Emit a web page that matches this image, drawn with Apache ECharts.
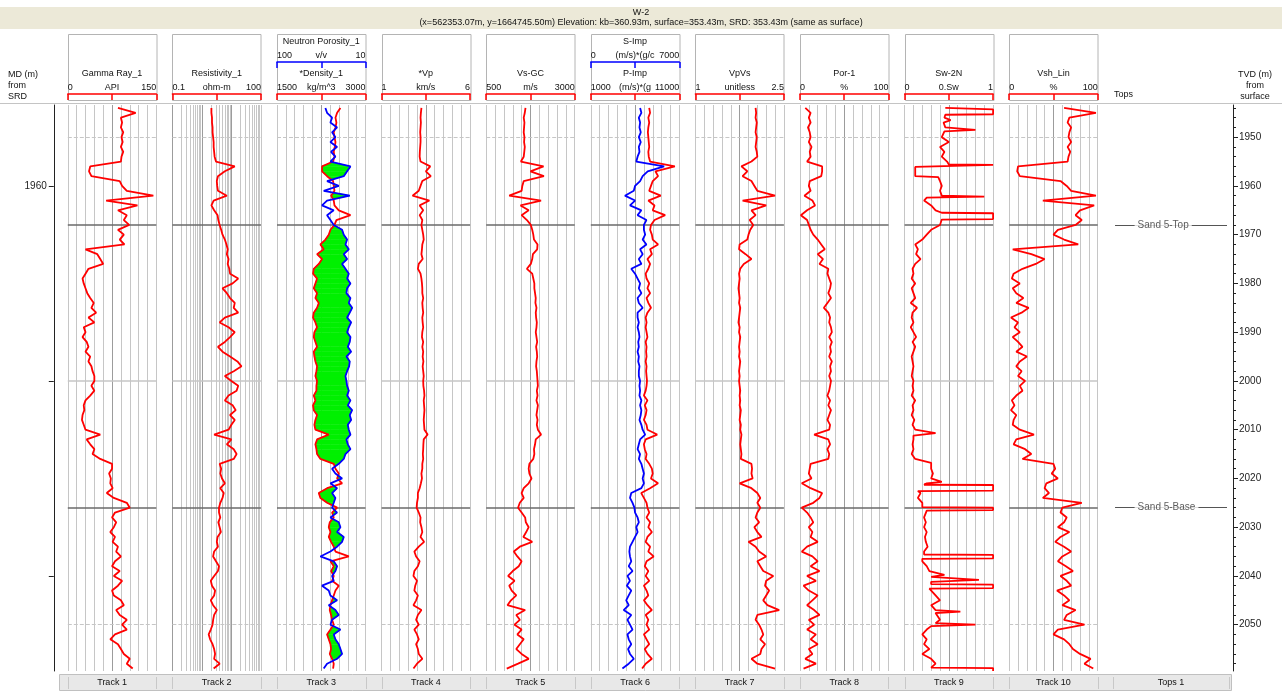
<!DOCTYPE html>
<html>
<head>
  <meta charset="utf-8">
  <title>W-2</title>
  <script src="https://cdn.jsdelivr.net/npm/echarts/dist/echarts.min.js"></script>
  <style>
    html, body { margin: 0; padding: 0; background: #fff; }
    #chart { width: 1282px; height: 691px; }
  </style>
</head>
<body>
  <div id="chart"></div>
  <script>
    // depth samples (m), one per metre
    var depth = [1944, 1945, 1946, 1947, 1948, 1949, 1950, 1951, 1952, 1953,
      1954, 1955, 1956, 1957, 1958, 1959, 1960, 1961, 1962, 1963,
      1964, 1965, 1966, 1967, 1968, 1969, 1970, 1971, 1972, 1973,
      1974, 1975, 1976, 1977, 1978, 1979, 1980, 1981, 1982, 1983,
      1984, 1985, 1986, 1987, 1988, 1989, 1990, 1991, 1992, 1993,
      1994, 1995, 1996, 1997, 1998, 1999, 2000, 2001, 2002, 2003,
      2004, 2005, 2006, 2007, 2008, 2009, 2010, 2011, 2012, 2013,
      2014, 2015, 2016, 2017, 2018, 2019, 2020, 2021, 2022, 2023,
      2024, 2025, 2026, 2027, 2028, 2029, 2030, 2031, 2032, 2033,
      2034, 2035, 2036, 2037, 2038, 2039, 2040, 2041, 2042, 2043,
      2044, 2045, 2046, 2047, 2048, 2049, 2050, 2051, 2052, 2053,
      2054, 2055, 2056, 2057, 2058, 2059];

    var gammaRay = [85, 115, 90, 92, 90, 94, 91, 93, 90, 94,
      91, 90, 38, 36, 40, 88, 92, 100, 145, 65,
      118, 85, 100, 95, 104, 85, 95, 88, 96, 30,
      50, 55, 60, 35, 30, 25, 27, 30, 33, 38,
      44, 40, 48, 35, 45, 27, 30, 25, 32, 35,
      30, 38, 35, 40, 42, 45, 45, 40, 45, 38,
      30, 27, 28, 25, 24, 27, 30, 55, 32, 38,
      45, 42, 55, 75, 75, 70, 73, 72, 76, 66,
      78, 100, 105, 80, 75, 82, 78, 72, 80, 76,
      85, 82, 90, 80, 75, 88, 78, 92, 85, 75,
      78, 90, 95, 82, 88, 100, 92, 100, 80, 72,
      85, 90, 95, 105, 100, 110];

    var resistivity = [2.1, 2.1, 2.2, 2.2, 2.3, 2.3, 2.4, 2.5, 2.5, 2.6,
      2.7, 3.0, 13, 6, 3.5, 3.2, 3.3, 3.5, 7, 2.5,
      2.1, 2.6, 3.4, 3.6, 4.0, 4.5, 5.0, 6.0, 6.8, 7.5,
      7.0, 8.0, 7.5, 8.5, 9.0, 17, 11, 5, 7, 9,
      13, 12, 17, 6, 4, 8, 13, 9, 6, 3.5,
      5, 9, 16, 22, 12, 6, 10, 17, 15, 8,
      6, 11, 14, 9, 13, 10, 8, 2.6, 10, 7,
      12, 15, 12, 4, 4.5, 4.2, 4.8, 6, 4.2, 5.5,
      5, 4.2, 3.8, 3.8, 4.2, 3.6, 4.0, 4.4, 3.4, 3.2,
      3.5, 2.6, 2.4, 3.0, 3.8, 3.5, 2.6, 2.0, 2.2, 2.8,
      2.6, 2.0, 2.4, 3.2, 2.6, 2.4, 2.3, 2.0, 1.7, 1.9,
      2.3, 2.6, 2.8, 2.6, 4.0, 2.5];

    var neutron = [50.8, 49.1, 44.0, 45.7, 38.9, 44.0, 40.6, 45.7, 38.9, 45.0,
      40.6, 45.7, 25.3, 28.7, 32.1, 49.1, 37.2, 52.5, 26.0, 49.1,
      54.2, 42.3, 49.1, 45.7, 42.3, 33.8, 32.1, 28.7, 30.4, 27.0,
      32.1, 28.7, 33.8, 30.4, 27.0, 28.7, 25.3, 28.7, 29.4, 25.3,
      27.0, 23.6, 26.0, 28.7, 24.6, 27.0, 28.7, 25.3, 26.0, 28.0,
      24.6, 29.4, 26.0, 26.7, 28.7, 30.4, 29.4, 28.7, 27.0, 28.7,
      25.3, 28.0, 23.6, 26.0, 24.6, 28.0, 27.0, 25.3, 29.4, 28.0,
      25.3, 30.4, 32.1, 37.2, 44.0, 40.6, 33.8, 45.7, 38.9, 44.0,
      40.6, 42.3, 44.0, 38.9, 45.7, 37.2, 35.5, 38.9, 32.1, 33.8,
      38.9, 45.7, 55.9, 42.3, 38.9, 40.6, 44.0, 42.3, 54.2, 47.4,
      45.7, 38.9, 47.4, 40.6, 37.2, 44.0, 45.7, 35.5, 42.3, 40.6,
      37.2, 35.5, 33.8, 38.9, 49.1, 52.5];

    var density = [2575, 2519, 2491, 2507, 2491, 2462, 2474, 2491, 2479, 2462,
      2474, 2451, 2264, 2264, 2349, 2451, 2462, 2474, 2417, 2462,
      2474, 2547, 2745, 2507, 2474, 2406, 2377, 2321, 2236, 2292,
      2179, 2264, 2208, 2123, 2111, 2179, 2151, 2123, 2179, 2151,
      2208, 2179, 2123, 2111, 2151, 2179, 2134, 2123, 2151, 2179,
      2123, 2134, 2151, 2179, 2168, 2151, 2179, 2168, 2168, 2123,
      2151, 2111, 2123, 2179, 2151, 2134, 2151, 2377, 2179, 2151,
      2168, 2179, 2236, 2462, 2491, 2547, 2519, 2604, 2349, 2208,
      2236, 2349, 2519, 2434, 2462, 2394, 2377, 2406, 2377, 2417,
      2462, 2491, 2717, 2406, 2462, 2417, 2462, 2434, 2547, 2491,
      2462, 2434, 2406, 2394, 2417, 2434, 2462, 2406, 2349, 2377,
      2406, 2417, 2394, 2434, 2462, 2451];

    var vp = [3.25, 3.22, 3.2, 3.22, 3.2, 3.18, 3.2, 3.2, 3.18, 3.16,
      3.15, 3.2, 3.75, 3.5, 3.78, 3.3, 3.2, 3.1, 2.75, 3.7,
      3.15, 3.35, 3.15, 3.3, 3.25, 3.3, 3.35, 3.38, 3.3, 3.28,
      3.25, 3.32, 3.1, 3.05, 3.2, 3.25, 3.28, 3.3, 3.3, 3.35,
      3.3, 3.32, 3.35, 3.3, 3.32, 3.35, 3.3, 3.28, 3.35, 3.3,
      3.35, 3.32, 3.36, 3.32, 3.35, 3.38, 3.35, 3.36, 3.4, 3.42,
      3.38, 3.4, 3.42, 3.4, 3.38, 3.4, 3.42, 3.6, 3.38, 3.36,
      3.35, 3.33, 3.35, 3.3, 3.3, 3.25, 3.28, 3.22, 3.15, 3.05,
      3.05, 3.0, 2.98, 3.1, 3.2, 3.18, 3.25, 3.3, 3.2, 3.4,
      3.1, 2.85, 2.95, 3.15, 3.05, 2.85, 2.8, 3.0, 2.9, 2.85,
      3.05, 2.95, 2.8, 3.25, 3.05, 2.95, 3.1, 2.85, 3.0, 3.1,
      2.95, 3.05, 3.1, 3.3, 3.0, 2.8];

    var vs = [1610, 1590, 1560, 1580, 1570, 1560, 1580, 1570, 1590, 1575,
      1560, 1480, 2120, 1750, 2130, 1560, 1520, 1500, 1150, 2050,
      1470, 1700, 1500, 1650, 1760, 1800, 1830, 1850, 1950, 1940,
      1820, 1800, 1760, 1650, 1800, 1830, 1860, 1860, 1880, 1900,
      1890, 1920, 1900, 1910, 1930, 1920, 1900, 1920, 1940, 1910,
      1930, 1940, 1920, 1910, 1930, 1940, 1950, 1960, 1930, 1950,
      1920, 1960, 1940, 1920, 1950, 1930, 1960, 2050, 1900, 1880,
      1850, 1860, 1830, 1720, 1700, 1720, 1780, 1700, 1560, 1500,
      1560, 1450, 1400, 1500, 1600, 1620, 1700, 1630, 1550, 1800,
      1450, 1280, 1380, 1500, 1420, 1250, 1120, 1300, 1150, 1220,
      1350, 1200, 1100, 1600, 1350, 1450, 1300, 1500, 1380, 1560,
      1450, 1350, 1500, 1700, 1400, 1080];

    var sImp = [3900, 4000, 3800, 3900, 3850, 3950, 3800, 3950, 3800, 3850,
      3700, 3600, 5800, 4500, 4100, 3900, 3500, 3400, 2700, 3500,
      3100, 4000, 3700, 4400, 4200, 4200, 4300, 4100, 4400, 3900,
      4100, 3800, 4000, 3200, 3500, 3700, 3900, 3800, 4000, 3700,
      3800, 4100, 3700, 3700, 3800, 3700, 3800, 3850, 3750, 3800,
      3700, 3800, 3750, 3850, 3800, 3800, 3900, 3850, 3900, 3850,
      4000, 3900, 4000, 3950, 3850, 4000, 4100, 4300, 3900, 3800,
      3700, 3900, 3800, 4000, 4100, 4200, 4100, 4200, 4000, 3200,
      3100, 3300, 3450, 3500, 3700, 3800, 3600, 3700, 3500, 3300,
      3100, 3050, 3100, 3200, 3000, 3300, 2900, 3100, 2850, 3200,
      3000, 2800, 3000, 2600, 3200, 2900, 3100, 3300, 2900, 3000,
      3200, 2950, 3100, 3400, 3000, 2500];

    var pImp = [7600, 7700, 7500, 7600, 7500, 7450, 7500, 7550, 7600, 7500,
      7550, 7700, 10500, 8300, 8600, 8000, 7800, 7600, 8900, 7500,
      8200, 8000, 9400, 8200, 7800, 7700, 7900, 8000, 8600, 7700,
      7900, 7400, 7700, 7500, 7200, 7300, 7600, 7400, 7700, 7300,
      7500, 7800, 7400, 7200, 7300, 7200, 7300, 7400, 7200, 7300,
      7250, 7300, 7200, 7300, 7250, 7300, 7350, 7300, 7200, 7000,
      7400, 7100, 7300, 7200, 7000, 7300, 7400, 8500, 7200, 7000,
      7100, 7300, 7200, 7600, 7900, 8000, 7800, 8600, 7700, 6700,
      7000, 7300, 7400, 7600, 7300, 7700, 7500, 7900, 7400, 7200,
      7700, 7500, 8100, 7300, 7100, 7500, 7200, 7600, 7000, 7300,
      7500, 7000, 7400, 7900, 7200, 7500, 7300, 7600, 7000, 7300,
      7600, 7100, 7400, 7900, 7200, 6800];

    var vpvs = [2.02, 2.03, 2.02, 2.04, 2.03, 2.02, 2.04, 2.03, 2.02, 2.04,
      2.05, 1.95, 1.78, 1.88, 1.8, 1.95, 2.0, 2.05, 2.35, 1.8,
      2.2, 1.95, 2.02, 1.92, 1.98, 1.93, 1.9, 1.88, 1.75, 1.74,
      1.85, 1.95, 1.82, 1.76, 1.74, 1.75, 1.74, 1.73, 1.74, 1.75,
      1.74, 1.76, 1.75, 1.74, 1.73, 1.75, 1.74, 1.76, 1.75, 1.74,
      1.75, 1.74, 1.76, 1.75, 1.74, 1.75, 1.74, 1.75, 1.76, 1.75,
      1.76, 1.75, 1.77, 1.76, 1.75, 1.77, 1.76, 1.78, 1.77, 1.76,
      1.77, 1.78, 1.77, 1.95, 1.96, 1.95, 1.97, 1.75, 1.95, 2.05,
      2.1, 2.05, 2.1, 2.05, 2.02, 2.08, 2.0, 2.05, 2.12, 1.9,
      2.02, 2.08, 2.2, 2.05, 2.1, 2.15, 2.32, 2.2, 2.18, 2.25,
      2.2, 2.15, 2.22, 2.42, 2.05, 2.02, 2.08, 2.12, 2.15, 2.1,
      2.18, 2.12, 2.1, 1.95, 2.05, 2.35];

    var porosity = [6, 12, 10, 12, 9, 11, 12, 10, 13, 11,
      12, 8, 25, 25, 24, 11, 10, 12, 5, 14,
      17, 8, 1, 8, 10, 12, 15, 20, 24, 28,
      20, 26, 22, 32, 31, 33, 35, 34, 32, 35,
      31, 27, 32, 34, 33, 35, 36, 33, 36, 34,
      35, 33, 36, 34, 35, 33, 35, 34, 33, 31,
      34, 32, 35, 33, 31, 34, 33, 16, 32, 34,
      31, 33, 32, 12, 11, 10, 13, 2, 12, 25,
      22, 15, 2, 8, 12, 15, 10, 14, 12, 20,
      8, 2, 14, 20, 12, 22, 8, 18, 4, 10,
      20, 14, 8, 16, 22, 10, 16, 8, 18, 12,
      20, 10, 14, 6, 18, 4];

    // water saturation sampled more finely, as [depth, Sw] pairs, to keep its flat spikes
    var swLog = [[1944.0, 0.46], [1944.3, 1.0], [1945.3, 1.0], [1945.4, 0.46],
      [1946, 0.45], [1946.5, 0.52], [1947, 0.44], [1948, 0.46], [1948.5, 0.8], [1948.8, 0.45],
      [1950, 0.42], [1951, 0.5], [1952, 0.4], [1953, 0.45], [1954, 0.42], [1955, 0.48],
      [1955.6, 0.5], [1955.7, 1.0], [1956.0, 1.0], [1956.1, 0.12], [1958.0, 0.12], [1958.2, 0.38],
      [1959, 0.4], [1960, 0.42], [1961, 0.4], [1962, 0.42], [1962.2, 0.9], [1962.4, 0.25],
      [1963, 0.22], [1964, 0.3], [1965, 0.35], [1965.5, 0.42], [1965.6, 1.0], [1966.8, 1.0], [1966.9, 0.42],
      [1968, 0.4], [1969, 0.3], [1970, 0.25], [1971, 0.2], [1972, 0.12], [1973, 0.15],
      [1974, 0.13], [1975, 0.18], [1976, 0.12], [1977, 0.09], [1978, 0.1], [1979, 0.08], [1980, 0.12],
      [1981, 0.08], [1982, 0.1], [1983, 0.12], [1984, 0.07], [1985, 0.14], [1986, 0.09], [1987, 0.08],
      [1988, 0.1], [1989, 0.07], [1990, 0.1], [1991, 0.13], [1992, 0.09], [1993, 0.12], [1994, 0.1],
      [1995, 0.08], [1996, 0.09], [1997, 0.1], [1998, 0.09], [1999, 0.08], [2000, 0.1], [2001, 0.09],
      [2002, 0.1], [2003, 0.08], [2004, 0.12], [2005, 0.09], [2006, 0.1], [2007, 0.08], [2008, 0.11],
      [2009, 0.09], [2010, 0.12], [2010.7, 0.35], [2011.2, 0.1], [2012, 0.1], [2013, 0.09],
      [2014, 0.1], [2015, 0.08], [2016, 0.12], [2016.8, 0.3], [2018, 0.3], [2019, 0.32], [2020, 0.3],
      [2020.7, 0.42], [2021, 0.25], [2021.3, 0.22], [2021.35, 1.0], [2022.5, 1.0], [2022.6, 0.15],
      [2023, 0.18], [2024, 0.15], [2025, 0.2], [2025.9, 0.2], [2026.0, 1.0], [2026.5, 1.0], [2026.6, 0.25],
      [2027, 0.25], [2028, 0.22], [2029, 0.24], [2030, 0.22], [2031, 0.25], [2032, 0.23], [2033, 0.24],
      [2034, 0.26], [2035, 0.22], [2035.6, 0.22], [2035.7, 1.0], [2036.4, 1.0], [2036.5, 0.2],
      [2037, 0.2], [2038, 0.25], [2039, 0.28], [2039.8, 0.45], [2040.2, 0.3], [2040.8, 0.84],
      [2041.2, 0.3], [2041.7, 0.3], [2041.8, 1.0], [2042.5, 1.0], [2042.6, 0.28],
      [2043, 0.28], [2044, 0.35], [2045, 0.4], [2046, 0.3], [2047, 0.35], [2047.3, 0.63], [2047.6, 0.35],
      [2048, 0.35], [2049, 0.4], [2049.7, 0.35], [2050.0, 0.8], [2050.3, 0.3],
      [2051, 0.25], [2052, 0.2], [2053, 0.25], [2054, 0.22], [2055, 0.28], [2056, 0.2], [2057, 0.3],
      [2058, 0.35], [2058.8, 0.3], [2058.9, 1.0], [2059.5, 1.0]];

    var vsh = [62, 98, 68, 66, 70, 68, 67, 70, 66, 69,
      67, 66, 10, 9, 12, 58, 65, 70, 98, 38,
      96, 80, 75, 82, 75, 55, 50, 62, 78, 4,
      25, 40, 30, 15, 5, 3, 12, 4, 8, 16,
      8, 22, 14, 2, 10, 6, 12, 4, 10, 15,
      8, 20, 12, 8, 14, 10, 18, 12, 15, 8,
      3, 6, 2, 8, 5, 4, 12, 28, 8, 5,
      18, 25, 15, 50, 52, 48, 55, 42, 40, 45,
      38, 82, 60, 58, 65, 62, 55, 68, 58, 52,
      62, 70, 60, 55, 64, 72, 58, 65, 70, 54,
      62, 68, 60, 75, 65, 62, 85, 55, 50, 62,
      68, 72, 80, 92, 85, 95];

    // curve headers and scales
    var curveData   = [gammaRay, resistivity, neutron, density, vp, vs, sImp, pImp, vpvs, porosity, swLog, vsh];
    var curveTitles = ['Gamma Ray_1', 'Resistivity_1', 'Neutron Porosity_1', '*Density_1', '*Vp', 'Vs-GC', 'S-Imp', 'P-Imp', 'VpVs', 'Por-1', 'Sw-2N', 'Vsh_Lin'];
    var curveUnits  = ['API', 'ohm-m', 'v/v', 'kg/m^3', 'km/s', 'm/s', '(m/s)*(g/c', '(m/s)*(g', 'unitless', '%', '0.Sw', '%'];
    var scaleLeft   = [0, 0.1, 100, 1500, 1, 500, 0, 1000, 1, 0, 0, 0];
    var scaleRight  = [150, 100, 10, 3000, 6, 3000, 7000, 11000, 2.5, 100, 1, 100];
    var curveTrack  = [0, 1, 2, 2, 3, 4, 5, 5, 6, 7, 8, 9];
    var curveBlue   = [false, false, true, false, false, false, true, false, false, false, false, false];
    var logCurve    = 1;

    var trackNames = ['Track 1', 'Track 2', 'Track 3', 'Track 4', 'Track 5', 'Track 6', 'Track 7', 'Track 8', 'Track 9', 'Track 10', 'Tops 1'];
    var topNames = ['Sand 5-Top', 'Sand 5-Base'];
    var topDepths = [1968, 2026];
    var refDepths = [1950, 2000, 2050];
    var mdTicks = [1960, 2000, 2040];
    var mdLabels = [1960];
    var tvdLabels = [1950, 1960, 1970, 1980, 1990, 2000, 2010, 2020, 2030, 2040, 2050];

    var wellTitle = 'W-2';
    var wellInfo = '(x=562353.07m, y=1664745.50m) Elevation: kb=360.93m, surface=353.43m, SRD: 353.43m (same as surface)';

    // layout
    var FONT = "'Liberation Sans', Arial, sans-serif";
    var FS = 9;
    var RED = '#ff0000', BLUE = '#0000ff', GREEN = '#00f000';
    var GRID_C = '#c6c6c6', GRID_MID = '#9c9c9c';
    var TOP = 105, HEIGHT = 566, TRACK_W = 88.5, STEP = 104.6, X0 = 67.8;
    var DMIN = 1943.4, DMAX = 2059.5;
    var TOPS_L = 1113, TOPS_W = 120;

    var trackLeft = [];
    for (var i = 0; i < 10; i++) trackLeft.push(X0 + i * STEP);

    var grids = [], xAxes = [], yAxes = [], series = [];
    trackLeft.forEach(function (l) {
      grids.push({ left: l, top: TOP, width: TRACK_W, height: HEIGHT });
    });
    grids.push({ left: TOPS_L, top: TOP, width: TOPS_W, height: HEIGHT });   // 10: tops
    grids.push({ left: TOPS_L, top: TOP, width: TOPS_W, height: HEIGHT });   // 11: minor TVD ticks

    function plain(v) { return String(v); }

    for (var t = 0; t < 10; t++) {
      yAxes.push({ gridIndex: t, type: 'value', inverse: true, min: DMIN, max: DMAX, show: false });
    }
    // MD axis on the left
    yAxes[0] = {
      gridIndex: 0, type: 'value', inverse: true, min: DMIN, max: DMAX, position: 'left', offset: 14,
      axisLine: { show: true, onZero: false, lineStyle: { color: '#222', width: 1 } },
      axisTick: { show: true, length: 5, customValues: mdTicks, lineStyle: { color: '#222' } },
      axisLabel: { show: true, customValues: mdLabels, formatter: plain, margin: 7, fontSize: 10, color: '#222', fontFamily: FONT },
      splitLine: { show: false }
    };
    // TVD axis on the right of the tops track
    yAxes.push({
      gridIndex: 10, type: 'value', inverse: true, min: DMIN, max: DMAX, position: 'right',
      axisLine: { show: true, onZero: false, lineStyle: { color: '#222', width: 1 } },
      axisTick: { show: true, length: 5, customValues: tvdLabels, lineStyle: { color: '#222' } },
      axisLabel: { show: true, customValues: tvdLabels, formatter: plain, margin: 6, fontSize: 10, color: '#222', fontFamily: FONT },
      splitLine: { show: false }
    });
    var minorTicks = [];
    for (var d = 1944; d <= 2058; d += 2) minorTicks.push(d);
    yAxes.push({
      gridIndex: 11, type: 'value', inverse: true, min: DMIN, max: DMAX, position: 'right',
      axisLine: { show: false, onZero: false },
      axisTick: { show: true, length: 3, customValues: minorTicks, lineStyle: { color: '#222' } },
      axisLabel: { show: false }, splitLine: { show: false }
    });

    // frame axes carrying the 10-division grid of linear tracks
    var gridColors = [GRID_C, GRID_C, GRID_C, GRID_C, GRID_C, GRID_MID, GRID_C, GRID_C, GRID_C, GRID_C, GRID_C];
    var frameIdx = [];
    for (var t2 = 0; t2 < 10; t2++) {
      if (t2 === curveTrack[logCurve]) { frameIdx.push(-1); continue; }
      frameIdx.push(xAxes.length);
      xAxes.push({
        gridIndex: t2, type: 'value', min: 0, max: 10, interval: 1, position: 'bottom',
        axisLine: { show: false, onZero: false }, axisTick: { show: false }, axisLabel: { show: false },
        splitLine: { show: true, lineStyle: { color: gridColors, width: 1 } }
      });
    }

    // header scale axes, one per curve
    var curveAxis = [];
    curveData.forEach(function (arr, c) {
      var lo = Math.min(scaleLeft[c], scaleRight[c]);
      var hi = Math.max(scaleLeft[c], scaleRight[c]);
      var inv = scaleLeft[c] > scaleRight[c];
      var isLog = c === logCurve;
      var mid = isLog ? Math.sqrt(lo * hi) : (lo + hi) / 2;
      var vals = [lo, mid, hi];
      var eps = (hi - lo) * 1e-6;
      var color = curveBlue[c] ? BLUE : RED;
      var row = curveBlue[c] ? 1 : 0;
      curveAxis.push(xAxes.length);
      xAxes.push({
        gridIndex: curveTrack[c], type: isLog ? 'log' : 'value', logBase: 10,
        min: lo, max: hi, inverse: inv, position: 'top', offset: row ? 43 : 11,
        name: curveTitles[c], nameLocation: 'middle', nameGap: row ? 6 : 8,
        nameTextStyle: { fontSize: FS, color: '#111', fontFamily: FONT },
        axisLine: { show: true, onZero: false, lineStyle: { color: color, width: 1.5 } },
        axisTick: { show: true, inside: true, length: 6, customValues: vals, lineStyle: { color: color, width: 1.5 } },
        axisLabel: {
          show: true, customValues: vals, margin: 2, fontSize: FS, color: '#111', fontFamily: FONT,
          alignMinLabel: inv ? 'right' : 'left', alignMaxLabel: inv ? 'left' : 'right',
          formatter: function (v) {
            if (Math.abs(v - lo) <= eps) return String(lo);
            if (Math.abs(v - hi) <= eps) return String(hi);
            return curveUnits[c];
          }
        },
        splitLine: { show: false }
      });
    });
    var topsX = xAxes.length;
    xAxes.push({ gridIndex: 10, type: 'value', min: 0, max: 1, show: false });
    xAxes.push({ gridIndex: 11, type: 'value', min: 0, max: 1, show: false });

    // horizontal depth lines and tops inside every track
    var hLines = [];
    refDepths.forEach(function (d) {
      hLines.push({ yAxis: d, lineStyle: { color: GRID_C, width: d % 100 === 0 ? 1.5 : 1, type: d % 100 === 0 ? 'solid' : 'dashed' } });
    });
    topDepths.forEach(function (d) {
      hLines.push({ yAxis: d, lineStyle: { color: '#6a6a6a', width: 1.5, type: 'solid' } });
    });

    // log grid of the resistivity track
    var logLines = [];
    [0.1, 1, 10].forEach(function (dec) {
      for (var m = 1; m < 10; m++) {
        logLines.push({ xAxis: dec * m, lineStyle: { color: m === 1 ? GRID_MID : GRID_C, width: 1, type: 'solid' } });
      }
    });
    logLines.push({ xAxis: 100, lineStyle: { color: GRID_C, width: 1, type: 'solid' } });

    for (var t3 = 0; t3 < 10; t3++) {
      var isLogTrack = frameIdx[t3] < 0;
      series.push({
        type: 'line', xAxisIndex: isLogTrack ? curveAxis[logCurve] : frameIdx[t3], yAxisIndex: t3,
        data: [], z: 1, silent: true,
        markLine: {
          z: 1, silent: true, symbol: 'none', animation: false, label: { show: false },
          lineStyle: { type: 'solid' },
          data: isLogTrack ? logLines.concat(hLines) : hLines
        }
      });
    }

    // green crossover fill between density and neutron
    var rhoC = 3, nphiC = 2;
    var rLo = Math.min(scaleLeft[rhoC], scaleRight[rhoC]);
    var rHi = Math.max(scaleLeft[rhoC], scaleRight[rhoC]);
    var nphiOnRho = neutron.map(function (v) {
      return rLo + (scaleLeft[nphiC] - v) / (scaleLeft[nphiC] - scaleRight[nphiC]) * (rHi - rLo);
    });
    series.push({
      type: 'custom', xAxisIndex: curveAxis[rhoC], yAxisIndex: curveTrack[rhoC], z: 2, silent: true, clip: true,
      data: depth.slice(1).map(function (d, k) { return [density[k], depth[k]]; }),
      renderItem: function (params, api) {
        var k = params.dataIndex;
        var a = api.coord([density[k], depth[k]]), b = api.coord([density[k + 1], depth[k + 1]]);
        var c = api.coord([nphiOnRho[k], depth[k]]), e = api.coord([nphiOnRho[k + 1], depth[k + 1]]);
        var d0 = c[0] - a[0], d1 = e[0] - b[0];
        var pts;
        if (d0 >= 0 && d1 >= 0) pts = [a, b, e, c];
        else if (d0 < 0 && d1 < 0) return null;
        else {
          var s = d0 / (d0 - d1);
          var m = [a[0] + (b[0] - a[0]) * s, a[1] + (b[1] - a[1]) * s];
          pts = d0 >= 0 ? [a, m, c] : [m, b, e];
        }
        return { type: 'polygon', shape: { points: pts }, style: { fill: GREEN, stroke: GREEN, lineWidth: 0.5 } };
      }
    });

    // curves
    curveData.forEach(function (arr, c) {
      var pts = arr === swLog
        ? swLog.map(function (p) { return [p[1], p[0]]; })
        : arr.map(function (v, k) { return [v, depth[k]]; });
      series.push({
        type: 'line', xAxisIndex: curveAxis[c], yAxisIndex: curveTrack[c],
        data: pts,
        showSymbol: false, symbol: 'none', silent: true, clip: true,
        z: curveBlue[c] ? 4 : 3,
        lineStyle: { color: curveBlue[c] ? BLUE : RED, width: 1.8 }
      });
    });

    // tops track
    series.push({
      type: 'line', xAxisIndex: topsX, yAxisIndex: 10, data: [], z: 1, silent: true,
      markLine: {
        z: 1, silent: true, symbol: 'none', animation: false, label: { show: false },
        lineStyle: { color: '#555', width: 1, type: 'solid' },
        data: topDepths.map(function (d) { return [{ coord: [0.017, d] }, { coord: [0.95, d] }]; })
      }
    });
    series.push({
      type: 'scatter', xAxisIndex: topsX, yAxisIndex: 10, symbolSize: 0, z: 5, silent: true,
      data: topNames.map(function (n, k) { return { name: n, value: [0.18, topDepths[k]] }; }),
      label: {
        show: true, position: 'right', distance: 0, formatter: '{b}', backgroundColor: '#fff',
        padding: [1, 3], color: '#333', fontSize: 10, fontFamily: FONT
      }
    });

    // header, title bar and footer decoration
    function txt(s, x, y, align) {
      return {
        type: 'text', x: x, y: y, silent: true,
        style: { text: s, textAlign: align || 'left', textVerticalAlign: 'middle', font: FS + 'px ' + FONT, fill: '#111' }
      };
    }
    var graphics = [];
    graphics.push({ type: 'rect', silent: true, shape: { x: 0, y: 7, width: 1282, height: 22 }, style: { fill: '#ece9d8' } });
    graphics.push(txt(wellTitle, 641, 13, 'center'));
    graphics.push(txt(wellInfo, 641, 23, 'center'));
    trackLeft.forEach(function (l) {
      graphics.push({ type: 'rect', silent: true, shape: { x: Math.round(l) + 0.5, y: 34.5, width: TRACK_W, height: 66 }, style: { fill: 'none', stroke: '#b4b4b4', lineWidth: 1 } });
    });
    graphics.push({ type: 'line', silent: true, shape: { x1: 0, y1: 103.5, x2: 1282, y2: 103.5 }, style: { stroke: '#c4c4c4', lineWidth: 1 } });
    graphics.push(txt('MD (m)', 8, 75));
    graphics.push(txt('from', 8, 86));
    graphics.push(txt('SRD', 8, 97));
    graphics.push(txt('Tops', 1114, 95));
    graphics.push(txt('TVD (m)', 1255, 75, 'center'));
    graphics.push(txt('from', 1255, 86, 'center'));
    graphics.push(txt('surface', 1255, 97, 'center'));

    graphics.push({ type: 'rect', silent: true, shape: { x: 59.5, y: 674.5, width: 1172, height: 16 }, style: { fill: '#e8e8e8', stroke: '#c0c0c0', lineWidth: 1 } });
    var tabEdges = [];
    trackLeft.forEach(function (l) { tabEdges.push(l, l + TRACK_W); });
    tabEdges.push(TOPS_L, TOPS_L + 116);
    tabEdges.forEach(function (x) {
      graphics.push({ type: 'line', silent: true, shape: { x1: Math.round(x) + 0.5, y1: 677, x2: Math.round(x) + 0.5, y2: 689 }, style: { stroke: '#c8c8c8', lineWidth: 1 } });
    });
    trackNames.forEach(function (n, k) {
      var cx = k < 10 ? trackLeft[k] + TRACK_W / 2 : TOPS_L + 58;
      graphics.push(txt(n, cx, 683, 'center'));
    });

    var chart = echarts.init(document.getElementById('chart'));
    chart.setOption({
      animation: false,
      backgroundColor: '#fff',
      textStyle: { fontFamily: FONT },
      grid: grids,
      xAxis: xAxes,
      yAxis: yAxes,
      series: series,
      graphic: graphics
    });
  </script>
</body>
</html>
